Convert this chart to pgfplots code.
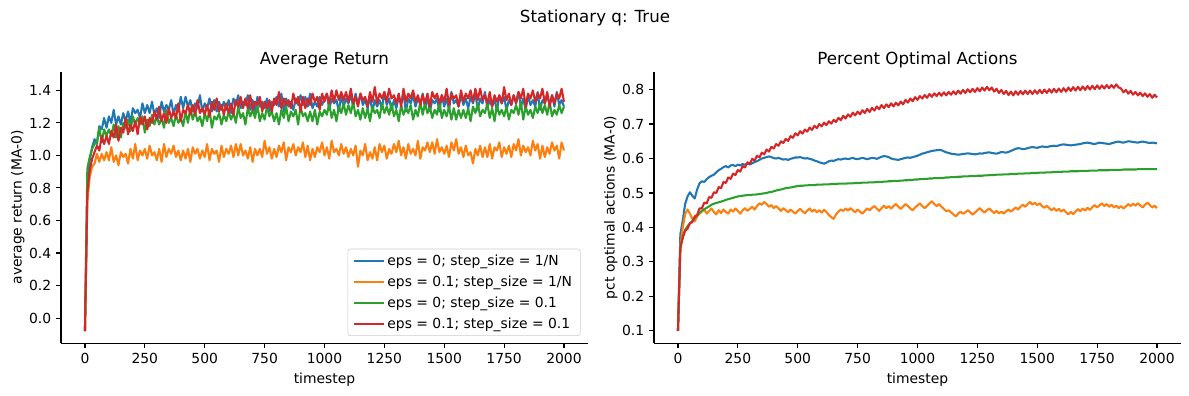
\documentclass[border=0pt]{standalone}
\usepackage{fontspec}
\setmainfont{DejaVu Sans}
\usepackage{pgfplots}
\usepackage{pgfplotstable}
\pgfplotsset{compat=1.18}
\definecolor{c0}{HTML}{1F77B4}
\definecolor{c1}{HTML}{FF7F0E}
\definecolor{c2}{HTML}{2CA02C}
\definecolor{c3}{HTML}{D62728}
\definecolor{legedge}{HTML}{CCCCCC}

\pgfplotstableread{
t b o g r
0 -0.08 -0.08 -0.08 -0.08
10 0.80 0.72 0.92 0.77
20 0.97 0.87 0.99 0.91
30 1.05 0.93 1.04 0.98
40 1.10 0.95 1.07 1.02
50 1.07 1.01 1.08 1.06
60 1.18 0.96 1.17 1.03
70 1.16 1.01 1.08 1.12
80 1.23 0.97 1.16 1.07
90 1.17 1.02 1.12 1.12
100 1.24 0.97 1.16 1.07
110 1.20 1.05 1.12 1.15
120 1.28 0.96 1.19 1.11
130 1.19 1.00 1.11 1.19
140 1.24 0.94 1.18 1.09
150 1.19 1.02 1.11 1.17
160 1.26 0.99 1.20 1.14
170 1.21 1.01 1.17 1.23
180 1.27 0.95 1.22 1.13
190 1.20 1.04 1.15 1.19
200 1.29 0.98 1.24 1.15
210 1.26 1.07 1.19 1.21
220 1.28 0.97 1.23 1.13
230 1.23 1.03 1.19 1.24
240 1.32 1.00 1.24 1.19
250 1.26 1.04 1.14 1.24
260 1.31 0.98 1.22 1.16
270 1.26 1.06 1.18 1.23
280 1.33 1.00 1.25 1.20
290 1.25 1.02 1.19 1.27
300 1.29 0.97 1.24 1.22
310 1.23 1.04 1.19 1.30
320 1.33 0.96 1.23 1.21
330 1.27 1.07 1.17 1.26
340 1.31 0.99 1.28 1.20
350 1.28 1.04 1.20 1.29
360 1.34 1.01 1.23 1.23
370 1.25 1.06 1.18 1.27
380 1.31 0.99 1.25 1.23
390 1.27 1.03 1.20 1.32
400 1.36 0.97 1.23 1.21
410 1.29 1.03 1.18 1.28
420 1.36 0.98 1.27 1.26
430 1.30 1.04 1.20 1.31
440 1.34 0.96 1.29 1.25
450 1.27 1.05 1.22 1.31
460 1.32 1.01 1.27 1.25
470 1.29 1.04 1.21 1.34
480 1.37 0.98 1.24 1.26
490 1.27 1.03 1.18 1.29
500 1.32 0.99 1.26 1.25
510 1.29 1.07 1.21 1.31
520 1.35 0.97 1.28 1.24
530 1.27 1.04 1.17 1.33
540 1.34 1.01 1.24 1.28
550 1.27 1.03 1.22 1.35
560 1.33 0.96 1.26 1.27
570 1.28 1.06 1.19 1.31
580 1.33 0.99 1.25 1.25
590 1.28 1.04 1.21 1.32
600 1.34 1.01 1.27 1.26
610 1.26 1.06 1.22 1.32
620 1.35 0.99 1.26 1.25
630 1.31 1.07 1.20 1.34
640 1.37 1.00 1.30 1.30
650 1.29 1.07 1.23 1.36
660 1.33 1.00 1.26 1.29
670 1.31 1.03 1.19 1.35
680 1.37 0.98 1.29 1.29
690 1.28 1.05 1.24 1.37
700 1.34 0.96 1.28 1.28
710 1.26 1.04 1.23 1.33
720 1.36 1.00 1.31 1.31
730 1.30 1.04 1.21 1.36
740 1.33 0.99 1.26 1.27
750 1.29 1.09 1.22 1.33
760 1.35 1.01 1.30 1.29
770 1.27 1.05 1.24 1.34
780 1.33 0.98 1.27 1.27
790 1.31 1.04 1.21 1.35
800 1.36 0.99 1.26 1.31
810 1.30 1.06 1.19 1.39
820 1.38 1.02 1.28 1.29
830 1.27 1.08 1.23 1.35
840 1.35 0.97 1.30 1.31
850 1.30 1.05 1.21 1.34
860 1.33 1.02 1.27 1.29
870 1.28 1.07 1.24 1.38
880 1.35 1.00 1.28 1.32
890 1.31 1.05 1.19 1.36
900 1.37 1.02 1.30 1.27
910 1.31 1.08 1.24 1.36
920 1.36 0.99 1.26 1.29
930 1.30 1.06 1.21 1.35
940 1.38 0.97 1.27 1.31
950 1.29 1.04 1.21 1.38
960 1.33 0.99 1.28 1.33
970 1.30 1.05 1.19 1.36
980 1.36 1.02 1.27 1.28
990 1.31 1.08 1.24 1.38
1000 1.35 1.00 1.28 1.33
1010 1.38 1.05 1.25 1.38
1020 1.28 0.98 1.32 1.32
1030 1.35 1.09 1.23 1.40
1040 1.32 1.02 1.28 1.33
1050 1.34 1.04 1.21 1.40
1060 1.27 1.00 1.30 1.34
1070 1.37 1.07 1.26 1.39
1080 1.30 1.01 1.32 1.34
1090 1.35 1.05 1.25 1.39
1100 1.32 0.99 1.31 1.33
1110 1.37 1.04 1.26 1.41
1120 1.30 1.00 1.33 1.32
1130 1.38 1.06 1.24 1.36
1140 1.31 0.93 1.28 1.30
1150 1.38 1.03 1.22 1.38
1160 1.31 1.00 1.29 1.34
1170 1.34 1.07 1.23 1.36
1180 1.29 0.97 1.29 1.30
1190 1.36 1.02 1.21 1.39
1200 1.27 0.98 1.30 1.33
1210 1.34 1.05 1.26 1.42
1220 1.30 0.97 1.28 1.32
1230 1.34 1.07 1.23 1.38
1240 1.29 1.02 1.32 1.35
1250 1.39 1.06 1.26 1.39
1260 1.31 0.98 1.30 1.33
1270 1.35 1.04 1.25 1.41
1280 1.28 1.01 1.32 1.35
1290 1.34 1.07 1.24 1.37
1300 1.29 1.02 1.28 1.32
1310 1.36 1.09 1.21 1.38
1320 1.32 1.00 1.31 1.30
1330 1.38 1.05 1.25 1.41
1340 1.27 0.98 1.29 1.33
1350 1.35 1.07 1.26 1.38
1360 1.32 1.01 1.31 1.35
1370 1.37 1.04 1.22 1.40
1380 1.30 1.00 1.28 1.33
1390 1.35 1.09 1.24 1.37
1400 1.32 0.98 1.33 1.31
1410 1.38 1.05 1.25 1.37
1420 1.29 1.03 1.32 1.32
1430 1.36 1.08 1.26 1.38
1440 1.27 1.02 1.30 1.30
1450 1.34 1.08 1.23 1.39
1460 1.32 1.01 1.28 1.35
1470 1.35 1.10 1.25 1.38
1480 1.27 1.02 1.33 1.32
1490 1.37 1.05 1.23 1.37
1500 1.30 1.01 1.28 1.33
1510 1.35 1.06 1.24 1.41
1520 1.28 0.99 1.30 1.31
1530 1.39 1.08 1.22 1.38
1540 1.32 1.03 1.29 1.35
1550 1.34 1.10 1.22 1.37
1560 1.30 1.01 1.28 1.30
1570 1.37 1.05 1.23 1.40
1580 1.31 0.99 1.28 1.33
1590 1.35 1.06 1.23 1.38
1600 1.29 1.00 1.29 1.35
1610 1.36 1.02 1.21 1.40
1620 1.32 0.95 1.30 1.33
1630 1.38 1.04 1.26 1.41
1640 1.28 1.00 1.32 1.34
1650 1.35 1.06 1.24 1.41
1660 1.32 0.99 1.28 1.34
1670 1.39 1.05 1.26 1.37
1680 1.29 0.99 1.32 1.32
1690 1.34 1.07 1.23 1.39
1700 1.30 0.98 1.29 1.30
1710 1.35 1.05 1.21 1.37
1720 1.27 1.03 1.31 1.33
1730 1.37 1.08 1.25 1.37
1740 1.32 0.99 1.28 1.32
1750 1.36 1.05 1.24 1.42
1760 1.28 1.01 1.30 1.34
1770 1.34 1.06 1.22 1.38
1780 1.31 0.99 1.28 1.31
1790 1.37 1.07 1.26 1.37
1800 1.32 1.03 1.31 1.32
1810 1.39 1.10 1.25 1.39
1820 1.30 1.00 1.33 1.35
1830 1.35 1.06 1.22 1.41
1840 1.28 1.02 1.30 1.30
1850 1.37 1.05 1.25 1.38
1860 1.31 1.00 1.28 1.35
1870 1.34 1.09 1.23 1.40
1880 1.30 1.03 1.30 1.33
1890 1.39 1.07 1.26 1.38
1900 1.28 0.98 1.32 1.35
1910 1.34 1.06 1.26 1.41
1920 1.32 0.99 1.31 1.32
1930 1.37 1.05 1.25 1.39
1940 1.31 1.01 1.33 1.30
1950 1.37 1.08 1.24 1.37
1960 1.30 1.03 1.28 1.32
1970 1.39 1.06 1.25 1.38
1980 1.31 0.98 1.31 1.35
1990 1.34 1.08 1.26 1.41
2000 1.30 1.03 1.30 1.33
}\retdata

\pgfplotstableread{
t b o g r
0 0.100 0.100 0.100 0.100
10 0.380 0.345 0.340 0.342
20 0.420 0.400 0.372 0.370
30 0.468 0.438 0.393 0.391
40 0.490 0.452 0.404 0.396
50 0.502 0.440 0.411 0.413
60 0.492 0.425 0.419 0.415
70 0.484 0.418 0.427 0.432
80 0.510 0.432 0.435 0.436
90 0.528 0.440 0.442 0.455
100 0.534 0.446 0.449 0.456
110 0.532 0.452 0.453 0.472
120 0.540 0.440 0.457 0.470
130 0.546 0.448 0.461 0.488
140 0.550 0.455 0.466 0.486
150 0.553 0.445 0.469 0.502
160 0.560 0.438 0.471 0.500
170 0.566 0.450 0.473 0.517
180 0.570 0.442 0.475 0.514
190 0.575 0.452 0.477 0.532
200 0.578 0.445 0.480 0.529
210 0.574 0.440 0.482 0.545
220 0.580 0.452 0.484 0.541
230 0.581 0.446 0.486 0.556
240 0.578 0.455 0.488 0.552
250 0.582 0.448 0.490 0.567
260 0.580 0.440 0.491 0.562
270 0.584 0.450 0.492 0.578
280 0.582 0.456 0.493 0.574
290 0.585 0.448 0.494 0.589
300 0.583 0.454 0.494 0.584
310 0.586 0.460 0.495 0.599
320 0.590 0.452 0.495 0.594
330 0.592 0.462 0.496 0.608
340 0.596 0.470 0.497 0.603
350 0.600 0.466 0.498 0.617
360 0.602 0.474 0.499 0.612
370 0.604 0.468 0.500 0.626
380 0.606 0.460 0.502 0.620
390 0.604 0.465 0.503 0.634
400 0.601 0.456 0.505 0.629
410 0.600 0.462 0.507 0.642
420 0.602 0.455 0.509 0.637
430 0.599 0.448 0.510 0.650
440 0.597 0.456 0.512 0.645
450 0.598 0.450 0.514 0.657
460 0.596 0.444 0.515 0.651
470 0.599 0.452 0.516 0.665
480 0.601 0.446 0.517 0.660
490 0.603 0.440 0.519 0.673
500 0.603 0.448 0.520 0.667
510 0.604 0.454 0.521 0.679
520 0.602 0.447 0.521 0.672
530 0.600 0.441 0.522 0.684
540 0.601 0.449 0.522 0.678
550 0.599 0.455 0.523 0.690
560 0.597 0.446 0.523 0.683
570 0.594 0.452 0.523 0.695
580 0.592 0.444 0.524 0.688
590 0.589 0.450 0.524 0.700
600 0.587 0.443 0.524 0.693
610 0.585 0.451 0.525 0.704
620 0.588 0.445 0.525 0.697
630 0.592 0.436 0.525 0.708
640 0.594 0.430 0.526 0.701
650 0.593 0.425 0.526 0.712
660 0.596 0.438 0.526 0.706
670 0.598 0.446 0.527 0.718
680 0.597 0.452 0.527 0.711
690 0.599 0.448 0.527 0.724
700 0.600 0.455 0.527 0.716
710 0.598 0.449 0.528 0.728
720 0.600 0.456 0.528 0.721
730 0.602 0.450 0.528 0.733
740 0.599 0.444 0.529 0.725
750 0.598 0.452 0.529 0.736
760 0.600 0.446 0.529 0.728
770 0.602 0.440 0.530 0.740
780 0.600 0.448 0.530 0.732
790 0.598 0.455 0.530 0.744
800 0.600 0.450 0.531 0.735
810 0.602 0.457 0.531 0.747
820 0.601 0.462 0.531 0.739
830 0.599 0.455 0.532 0.751
840 0.602 0.448 0.532 0.743
850 0.605 0.456 0.532 0.755
860 0.607 0.463 0.533 0.746
870 0.606 0.456 0.533 0.757
880 0.604 0.462 0.534 0.749
890 0.600 0.455 0.534 0.760
900 0.598 0.462 0.535 0.751
910 0.597 0.468 0.535 0.762
920 0.596 0.460 0.535 0.754
930 0.598 0.454 0.536 0.765
940 0.600 0.461 0.536 0.757
950 0.602 0.468 0.537 0.770
960 0.603 0.462 0.537 0.762
970 0.602 0.455 0.538 0.774
980 0.604 0.450 0.538 0.766
990 0.606 0.458 0.539 0.778
1000 0.608 0.464 0.539 0.770
1010 0.611 0.470 0.540 0.781
1020 0.614 0.462 0.540 0.774
1030 0.616 0.456 0.541 0.784
1040 0.618 0.463 0.541 0.776
1050 0.620 0.470 0.542 0.787
1060 0.622 0.476 0.542 0.779
1070 0.623 0.468 0.543 0.789
1080 0.624 0.462 0.543 0.781
1090 0.625 0.468 0.543 0.791
1100 0.624 0.460 0.544 0.782
1110 0.621 0.454 0.544 0.792
1120 0.618 0.447 0.545 0.783
1130 0.616 0.450 0.545 0.793
1140 0.614 0.444 0.546 0.785
1150 0.613 0.438 0.546 0.795
1160 0.612 0.432 0.546 0.786
1170 0.611 0.440 0.547 0.797
1180 0.612 0.446 0.547 0.788
1190 0.613 0.440 0.548 0.799
1200 0.614 0.444 0.548 0.790
1210 0.615 0.450 0.548 0.801
1220 0.614 0.444 0.549 0.792
1230 0.613 0.437 0.549 0.802
1240 0.612 0.443 0.549 0.793
1250 0.613 0.450 0.550 0.804
1260 0.615 0.456 0.550 0.795
1270 0.614 0.449 0.550 0.806
1280 0.616 0.443 0.551 0.797
1290 0.617 0.450 0.551 0.808
1300 0.618 0.455 0.552 0.798
1310 0.616 0.448 0.552 0.806
1320 0.615 0.442 0.552 0.794
1330 0.614 0.448 0.553 0.802
1340 0.616 0.441 0.553 0.790
1350 0.619 0.446 0.553 0.799
1360 0.618 0.440 0.554 0.787
1370 0.617 0.447 0.554 0.796
1380 0.619 0.452 0.554 0.784
1390 0.622 0.446 0.555 0.794
1400 0.625 0.452 0.555 0.783
1410 0.628 0.458 0.555 0.795
1420 0.630 0.452 0.556 0.785
1430 0.629 0.460 0.556 0.796
1440 0.627 0.466 0.556 0.786
1450 0.628 0.460 0.557 0.797
1460 0.630 0.468 0.557 0.787
1470 0.632 0.474 0.557 0.797
1480 0.633 0.466 0.558 0.787
1490 0.632 0.472 0.558 0.798
1500 0.631 0.465 0.558 0.788
1510 0.633 0.470 0.559 0.799
1520 0.635 0.462 0.559 0.789
1530 0.634 0.457 0.559 0.800
1540 0.633 0.463 0.560 0.790
1550 0.635 0.456 0.560 0.801
1560 0.636 0.450 0.560 0.791
1570 0.637 0.456 0.561 0.802
1580 0.636 0.448 0.561 0.792
1590 0.638 0.454 0.561 0.803
1600 0.640 0.446 0.561 0.793
1610 0.641 0.452 0.562 0.804
1620 0.640 0.444 0.562 0.794
1630 0.639 0.438 0.562 0.806
1640 0.638 0.445 0.563 0.796
1650 0.639 0.439 0.563 0.807
1660 0.640 0.446 0.563 0.797
1670 0.641 0.453 0.563 0.808
1680 0.642 0.447 0.564 0.798
1690 0.644 0.455 0.564 0.809
1700 0.645 0.449 0.564 0.799
1710 0.646 0.457 0.564 0.810
1720 0.645 0.451 0.565 0.800
1730 0.643 0.459 0.565 0.811
1740 0.642 0.465 0.565 0.801
1750 0.644 0.458 0.565 0.812
1760 0.646 0.464 0.566 0.802
1770 0.645 0.470 0.566 0.812
1780 0.644 0.462 0.566 0.803
1790 0.643 0.468 0.566 0.813
1800 0.642 0.460 0.566 0.804
1810 0.644 0.466 0.567 0.813
1820 0.646 0.458 0.567 0.805
1830 0.648 0.463 0.567 0.815
1840 0.649 0.456 0.567 0.806
1850 0.647 0.462 0.567 0.803
1860 0.646 0.455 0.568 0.792
1870 0.648 0.461 0.568 0.799
1880 0.650 0.468 0.568 0.788
1890 0.649 0.462 0.568 0.796
1900 0.648 0.469 0.568 0.785
1910 0.647 0.463 0.568 0.793
1920 0.646 0.470 0.569 0.783
1930 0.648 0.464 0.569 0.791
1940 0.649 0.458 0.569 0.781
1950 0.648 0.466 0.569 0.789
1960 0.646 0.472 0.569 0.779
1970 0.645 0.465 0.569 0.787
1980 0.646 0.458 0.569 0.776
1990 0.645 0.463 0.569 0.785
2000 0.644 0.456 0.569 0.777
}\optdata

\pgfplotsset{
  mpl/.style={
    scale only axis,
    width=379.4pt, height=195.6pt,
    anchor=south west,
    axis x line*=bottom, axis y line*=left,
    axis line style={line width=0.8pt, black},
    tick align=outside,
    major tick length=3.5pt,
    tick style={black, line width=0.8pt},
    xmin=-100, xmax=2100,
    xtick={0,250,500,750,1000,1250,1500,1750,2000},
    /pgf/number format/assume math mode=true,
    xticklabel style={/pgf/number format/1000 sep={}},
    yticklabel style={/pgf/number format/.cd, fixed, fixed zerofill, precision=1},
    tick label style={font=\fontsize{10}{12}\selectfont},
    label style={font=\fontsize{10}{12}\selectfont},
    every axis title/.style={at={(0.5,1)}, above, yshift=-1pt, font=\fontsize{12}{14}\selectfont},
    ylabel shift=-3.5pt,
    xlabel={timestep},
    every axis plot/.append style={line width=1.5pt, line join=round, no markers},
  }
}

\begin{document}
\begin{tikzpicture}
\path[use as bounding box] (-43.92pt,-37.94pt) rectangle (812.16pt,247.18pt);
\begin{axis}[mpl, at={(0pt,0pt)},
  title={Average Return},
  ylabel={average return (MA-0)},
  ymin=-0.155, ymax=1.515,
  ytick={0,0.2,0.4,0.6,0.8,1.0,1.2,1.4},
  legend cell align=left,
  legend image code/.code={\draw[#1, line width=1.5pt] (0pt,0pt) -- (21pt,0pt);},
  legend style={at={(1,0)}, anchor=south east, xshift=-5.3pt, yshift=5.3pt,
    draw=legedge, rounded corners=2pt, fill=white, inner xsep=4pt,
    font=\fontsize{10}{12}\selectfont, row sep=2pt},
]
\addplot[c0] table[x=t, y=b] {\retdata};
\addlegendentry{eps = 0; step\_size = 1/N}
\addplot[c1] table[x=t, y=o] {\retdata};
\addlegendentry{eps = 0.1; step\_size = 1/N}
\addplot[c2] table[x=t, y=g] {\retdata};
\addlegendentry{eps = 0; step\_size = 0.1}
\addplot[c3] table[x=t, y=r] {\retdata};
\addlegendentry{eps = 0.1; step\_size = 0.1}
\end{axis}
\begin{axis}[mpl, at={(426.96pt,0pt)},
  title={Percent Optimal Actions},
  ylabel={pct optimal actions (MA-0)},
  ymin=0.064, ymax=0.852,
  ytick={0.1,0.2,0.3,0.4,0.5,0.6,0.7,0.8},
]
\addplot[c0] table[x=t, y=b] {\optdata};
\addplot[c1] table[x=t, y=o] {\optdata};
\addplot[c2] table[x=t, y=g] {\optdata};
\addplot[c3] table[x=t, y=r] {\optdata};
\end{axis}
\node[font=\fontsize{12}{14}\selectfont] at (384.5pt,234.2pt) {Stationary q: True};
\end{tikzpicture}
\end{document}
